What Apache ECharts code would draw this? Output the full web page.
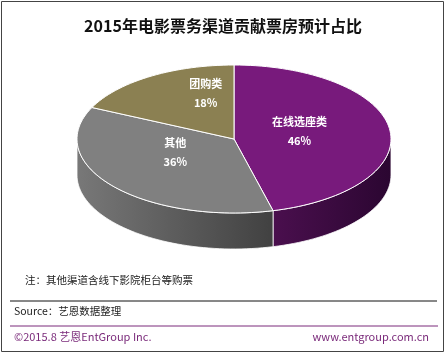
<!DOCTYPE html>
<html>
<head>
<meta charset="utf-8">
<script src="https://cdn.jsdelivr.net/npm/echarts@6/dist/echarts.min.js"></script>
<style>
  html, body { margin: 0; padding: 0; background: #fff; }
  #chart { width: 446px; height: 354px; }
</style>
</head>
<body>
<div id="chart"></div>
<script>
// data
const categories = ['在线选座类', '其他', '团购类']
const shares = [46, 36, 18]

const title = '2015年电影票务渠道贡献票房预计占比'
const note = '注：其他渠道含线下影院柜台等购票'
const source = 'Source：艺恩数据整理'
const copyright = '©2015.8 艺恩EntGroup Inc.'
const website = 'www.entgroup.com.cn'

// look
const topColors = ['#781a7c', '#808080', '#8b8052']
const sideColors = [['#4a0f4e', '#2b0631'], ['#787878', '#414141'], ['#5c5535', '#3e3a22']]
const labelNudge = [[0, -3], [-8, -10], [7, -14]]
const CX = 234, CY = 139, RX = 157, RY = 74, DEPTH = 36
const FONT = '"Microsoft YaHei", "Noto Sans CJK SC", sans-serif'

const chart = echarts.init(document.getElementById('chart'), null, { renderer: 'canvas' })

const total = shares.reduce((a, b) => a + b, 0)
const rad = d => d * Math.PI / 180
function pt(deg, dy) {
  return [CX + RX * Math.cos(rad(deg)), CY + RY * Math.sin(rad(deg)) + (dy || 0)]
}
function arc(a0, a1, dy) {
  const pts = []
  const n = Math.max(2, Math.ceil(Math.abs(a1 - a0) / 2))
  for (let i = 0; i <= n; i++) pts.push(pt(a0 + (a1 - a0) * i / n, dy))
  return pts
}

function renderItem(params, api) {
  const i = params.dataIndex
  let before = 0
  for (let k = 0; k < i; k++) before += shares[k]
  const a0 = -90 + before / total * 360
  const a1 = a0 + api.value(0) / total * 360
  const children = []

  // front wall, only the part that faces the viewer (0..180 deg)
  ;[[0, 180], [360, 540]].forEach(([lo, hi]) => {
    const s = Math.max(a0, lo), e = Math.min(a1, hi)
    if (e <= s) return
    const upper = arc(s, e, 0)
    const lower = arc(e, s, DEPTH)
    const xs = upper.map(p => p[0])
    children.push({
      type: 'polygon',
      z2: 1,
      shape: { points: upper.concat(lower) },
      style: {
        fill: new echarts.graphic.LinearGradient(Math.min(...xs), 0, Math.max(...xs), 0, [
          { offset: 0, color: sideColors[i][0] },
          { offset: 1, color: sideColors[i][1] }
        ], true),
        stroke: '#fff',
        lineWidth: 0.8
      }
    })
  })

  // top face
  children.push({
    type: 'polygon',
    z2: 10,
    shape: { points: [[CX, CY]].concat(arc(a0, a1, 0)) },
    style: { fill: topColors[i], stroke: '#fff', lineWidth: 1 }
  })

  // label
  const mid = (a0 + a1) / 2
  const lp = [CX + RX * 0.42 * Math.cos(rad(mid)) + labelNudge[i][0],
    CY + RY * 0.5 * Math.sin(rad(mid)) + labelNudge[i][1]]
  children.push({
    type: 'text',
    z2: 20,
    x: lp[0],
    y: lp[1],
    style: {
      text: categories[i] + '\n' + api.value(0) + '%',
      fill: '#fff',
      font: 'bold 11px ' + FONT,
      align: 'center',
      verticalAlign: 'middle',
      lineHeight: 19
    }
  })
  return { type: 'group', children }
}

chart.setOption({
  backgroundColor: '#fff',
  animation: false,
  title: {
    text: title,
    left: 'center',
    top: 13,
    textStyle: { fontSize: 16, fontWeight: 'bold', color: '#111', fontFamily: FONT }
  },
  series: [{
    type: 'custom',
    coordinateSystem: 'none',
    renderItem: renderItem,
    data: shares.map((v, i) => ({ name: categories[i], value: [v] }))
  }],
  graphic: [
    { type: 'rect', z: 0, shape: { x: 1.5, y: 1.5, width: 442, height: 350 },
      style: { fill: 'none', stroke: '#444', lineWidth: 1 } },
    { type: 'text', left: 25, top: 275,
      style: { text: note, font: '10.5px ' + FONT, fill: '#222' } },
    { type: 'line', shape: { x1: 10, y1: 301, x2: 437, y2: 301 },
      style: { stroke: '#111', lineWidth: 1 } },
    { type: 'text', left: 14, top: 306,
      style: { text: source, font: '10.5px ' + FONT, fill: '#222' } },
    { type: 'line', shape: { x1: 10, y1: 326, x2: 438, y2: 326 },
      style: { stroke: '#7a2a7a', lineWidth: 1 } },
    { type: 'text', left: 14, top: 331,
      style: { text: copyright, font: '11px ' + FONT, fill: '#7a2a7a' } },
    { type: 'text', right: 17, top: 331,
      style: { text: website, font: '11px ' + FONT, fill: '#7a2a7a' } }
  ]
})
</script>
</body>
</html>
